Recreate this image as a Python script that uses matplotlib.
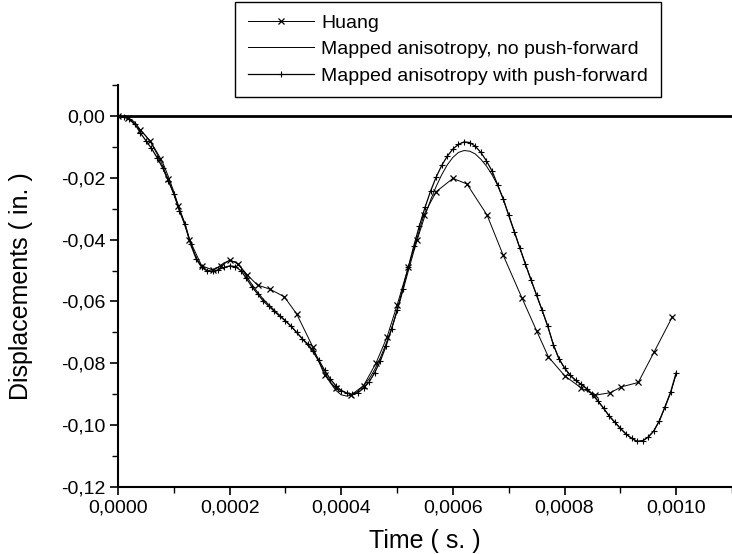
import numpy as np
import matplotlib
matplotlib.use('Agg')
import matplotlib.pyplot as plt
from matplotlib.ticker import FuncFormatter, MultipleLocator

plt.rcParams['font.family'] = ['Liberation Sans', 'DejaVu Sans']

# time grid for the two mapped-anisotropy runs (s)
t_map = np.arange(101) * 1e-5

# Mapped anisotropy with push-forward (in.)
disp_push = [
    0.0000, -0.0003, -0.0010, -0.0025, -0.0055, -0.0080, -0.0105, -0.0135, -0.0168, -0.0210,
    -0.0252, -0.0308, -0.0350, -0.0415, -0.0462, -0.0490, -0.0502, -0.0503, -0.0497, -0.0490,
    -0.0485, -0.0487, -0.0500, -0.0525, -0.0553, -0.0575, -0.0598, -0.0615, -0.0632, -0.0648,
    -0.0663, -0.0680, -0.0700, -0.0720, -0.0738, -0.0760, -0.0790, -0.0822, -0.0850, -0.0872,
    -0.0888, -0.0897, -0.0900, -0.0895, -0.0880, -0.0860, -0.0830, -0.0792, -0.0745, -0.0690,
    -0.0628, -0.0560, -0.0490, -0.0420, -0.0355, -0.0296, -0.0243, -0.0198, -0.0160, -0.0130,
    -0.0107, -0.0092, -0.0084, -0.0086, -0.0098, -0.0118, -0.0145, -0.0178, -0.0222, -0.0268,
    -0.0322, -0.0375, -0.0428, -0.0480, -0.0531, -0.0580, -0.0629, -0.0680, -0.0740, -0.0785,
    -0.0815, -0.0838, -0.0855, -0.0868, -0.0882, -0.0900, -0.0922, -0.0945, -0.0970, -0.0990,
    -0.1010, -0.1028, -0.1042, -0.1052, -0.1050, -0.1038, -0.1018, -0.0985, -0.0940, -0.0893,
    -0.0830]

# Mapped anisotropy, no push-forward (in.)
disp_nopush = [
    0.0000, -0.0002, -0.0008, -0.0020, -0.0045, -0.0065, -0.0088, -0.0118, -0.0150, -0.0195,
    -0.0245, -0.0300, -0.0348, -0.0410, -0.0458, -0.0488, -0.0500, -0.0498, -0.0488, -0.0475,
    -0.0468, -0.0472, -0.0490, -0.0518, -0.0545, -0.0570, -0.0592, -0.0610, -0.0628, -0.0645,
    -0.0662, -0.0680, -0.0700, -0.0720, -0.0742, -0.0765, -0.0795, -0.0830, -0.0862, -0.0887,
    -0.0902, -0.0906, -0.0902, -0.0890, -0.0872, -0.0850, -0.0820, -0.0782, -0.0738, -0.0688,
    -0.0632, -0.0568, -0.0502, -0.0438, -0.0378, -0.0322, -0.0272, -0.0228, -0.0190, -0.0158,
    -0.0134, -0.0118, -0.0112, -0.0114, -0.0123, -0.0140, -0.0162, -0.0190, -0.0224, -0.0268,
    -0.0320, -0.0373, -0.0427, -0.0479, -0.0530, -0.0580, -0.0630, -0.0681, -0.0740, -0.0786,
    -0.0816, -0.0839, -0.0856, -0.0869, -0.0883, -0.0901, -0.0923, -0.0946, -0.0971, -0.0991,
    -0.1011, -0.1029, -0.1043, -0.1053, -0.1051, -0.1039, -0.1019, -0.0986, -0.0942, -0.0896,
    -0.0835]

# Huang reference points (s, in.)
t_huang = [0.0, 0.000018, 0.000040, 0.000057, 0.000075, 0.000090, 0.000108, 0.000128,
           0.000150, 0.000170, 0.000185, 0.000200, 0.000215, 0.000232, 0.000250, 0.000272,
           0.000298, 0.000320, 0.000349, 0.000370, 0.000390, 0.000418, 0.000440, 0.000462,
           0.000482, 0.000500, 0.000520, 0.000535, 0.000548, 0.000570, 0.000600, 0.000625,
           0.000661, 0.000690, 0.000724, 0.000750, 0.000771, 0.000800, 0.000830, 0.000855,
           0.000882, 0.000902, 0.000932, 0.000960, 0.000993]
disp_huang = [0.0, -0.0008, -0.0045, -0.0080, -0.0140, -0.0205, -0.0290, -0.0400,
              -0.0485, -0.0498, -0.0485, -0.0466, -0.0478, -0.0515, -0.0547, -0.0560,
              -0.0585, -0.0640, -0.0747, -0.0838, -0.0880, -0.0902, -0.0872, -0.0800,
              -0.0715, -0.0612, -0.0490, -0.0400, -0.0320, -0.0245, -0.0202, -0.0220,
              -0.0320, -0.0450, -0.0590, -0.0695, -0.0779, -0.0840, -0.0880, -0.0903,
              -0.0895, -0.0876, -0.0862, -0.0765, -0.0650]

fig = plt.figure(figsize=(7.32, 5.54), dpi=100)
ax = fig.add_axes([0.1612, 0.1209, 0.8388, 0.7257])

ax.axhline(0, color='black', lw=2.0, zorder=1)
l1, = ax.plot(t_huang, disp_huang, '-', color='black', lw=0.7, marker='x',
              ms=4, mew=0.9, label='Huang')
l2, = ax.plot(t_map, disp_nopush, '-', color='black', lw=0.7,
              label='Mapped anisotropy, no push-forward')
l3, = ax.plot(t_map, disp_push, '-', color='black', lw=0.9, marker='+',
              ms=5, mew=0.8, label='Mapped anisotropy with push-forward')

ax.set_xlim(0, 0.0011)
ax.set_ylim(-0.12, 0.01)
ax.xaxis.set_major_locator(MultipleLocator(0.0002))
ax.xaxis.set_minor_locator(MultipleLocator(0.0001))
ax.yaxis.set_major_locator(MultipleLocator(0.02))
ax.yaxis.set_minor_locator(MultipleLocator(0.01))
ax.xaxis.set_major_formatter(FuncFormatter(lambda v, p: ('%.4f' % v).replace('.', ',')))
ax.yaxis.set_major_formatter(FuncFormatter(lambda v, p: ('%.2f' % v).replace('.', ',').replace('-0,00', '0,00')))

for side in ['top', 'right']:
    ax.spines[side].set_visible(False)
for side in ['left', 'bottom']:
    ax.spines[side].set_linewidth(1.5)
ax.tick_params(which='major', direction='out', length=6, width=1.2, labelsize=14, pad=3)
ax.tick_params(which='minor', direction='out', length=4, width=1.0)

ax.set_xlabel('Time ( s. )', fontsize=18, labelpad=9)
ax.set_ylabel('Displacements ( in. )', fontsize=18, labelpad=20)

leg = fig.legend(handles=[l1, l2, l3], loc='upper left',
                 bbox_to_anchor=(0.321, 0.997), fontsize=14, frameon=True,
                 fancybox=False, framealpha=1, edgecolor='black',
                 handlelength=3.4, labelspacing=0.45, borderpad=0.65,
                 handletextpad=0.4, borderaxespad=0)
leg.get_frame().set_linewidth(1.0)

fig.savefig('out.png', dpi=100)
